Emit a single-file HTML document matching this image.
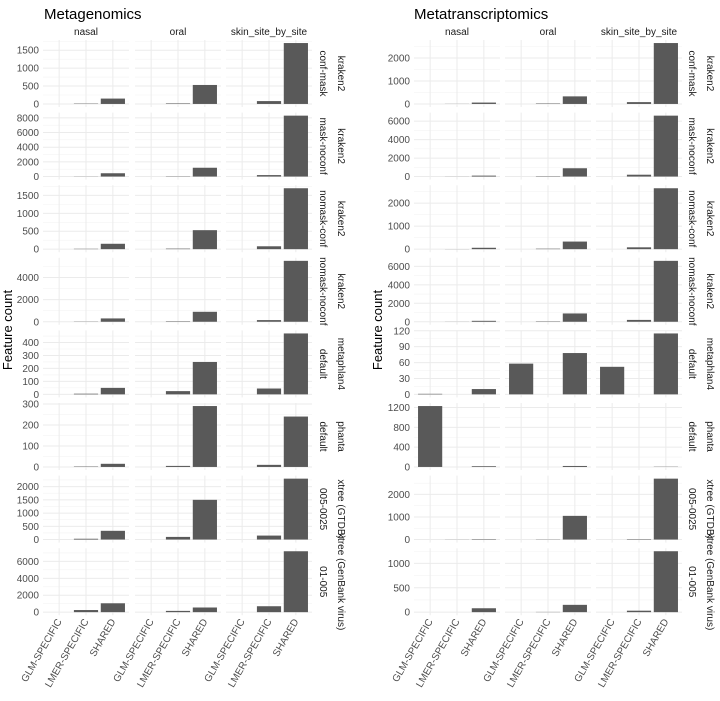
<!DOCTYPE html>
<html><head><meta charset="utf-8"><style>
body{margin:0;background:#fff;width:720px;height:696px;overflow:hidden;font-family:"Liberation Sans",sans-serif}
</style></head><body>
<svg id="c" width="720" height="696" xmlns="http://www.w3.org/2000/svg"></svg>
<script>
const sites = ["nasal","oral","skin_site_by_site"];
const categories = ["GLM-SPECIFIC","LMER-SPECIFIC","SHARED"];
const rowLabels1 = ["kraken2","kraken2","kraken2","kraken2","metaphlan4","phanta","xtree (GTDB)","xtree (GenBank virus)"];
const rowLabels2 = ["conf-mask","mask-noconf","nomask-conf","nomask-noconf","default","default","005-0025","01-005"];
// Metagenomics values [row][site][category]
const mgValues = [
 [[0,10,150],[0,15,530],[0,80,1700]],
 [[0,20,450],[0,40,1200],[0,200,8300]],
 [[0,10,150],[0,15,530],[0,80,1700]],
 [[0,20,300],[0,40,900],[0,150,5500]],
 [[0,5,50],[0,25,250],[0,45,470]],
 [[0,2,15],[0,5,290],[0,10,240]],
 [[0,30,330],[0,100,1500],[0,150,2300]],
 [[0,250,1050],[0,150,550],[0,700,7200]]
];
const mgTicks = [[0,500,1000,1500],[0,2000,4000,6000,8000],[0,500,1000,1500],[0,2000,4000],[0,100,200,300,400],[0,100,200,300],[0,500,1000,1500,2000],[0,2000,4000,6000]];
// Metatranscriptomics values
const mtValues = [
 [[0,5,60],[0,20,330],[0,80,2650]],
 [[0,10,100],[0,40,900],[0,200,6600]],
 [[0,5,60],[0,20,330],[0,80,2650]],
 [[0,10,100],[0,40,900],[0,200,6600]],
 [[1,0,10],[58,0,78],[52,0,115]],
 [[1230,0,15],[0,0,20],[0,0,5]],
 [[0,5,20],[0,10,1050],[0,20,2700]],
 [[0,0,80],[0,5,150],[0,30,1250]]
];
const mtTicks = [[0,1000,2000],[0,2000,4000,6000],[0,1000,2000],[0,2000,4000,6000],[0,30,60,90,120],[0,400,800,1200],[0,1000,2000],[0,500,1000]];

const svg=document.getElementById('c');
const NS="http://www.w3.org/2000/svg";
function mk(tag,attrs,parent,text){const e=document.createElementNS(NS,tag);for(const k in attrs)e.setAttribute(k,attrs[k]);if(text!==undefined)e.textContent=text;(parent||svg).appendChild(e);return e;}

function drawBlock(title,titleX,panelX,values,ticks,stripX,ytitleX,prefix){
  const g=mk('g',{});
  
  
  const t=mk('text',{x:titleX,y:19,'font-size':15,fill:'#000'},g,title);
  
  
  const yt=mk('text',{x:ytitleX,y:330,'font-size':13,fill:'#000','text-anchor':'middle',transform:`rotate(-90 ${ytitleX} 330)`},g,'Feature count');
  
  
  const PW=86,PH=67,top0=40,step=72.6;
  sites.forEach((s,j)=>{
    const st=mk('text',{x:panelX[j]+PW/2,y:35,'font-size':10,fill:'#1a1a1a','text-anchor':'middle'},g,s);
    
    
  });
  values.forEach((row,i)=>{
    const top=top0+step*i;
    const tk=ticks[i];
    let max=0;row.forEach(r=>r.forEach(v=>{if(v>max)max=v;}));
    const lo=-0.05*max,hi=1.05*max;
    const y=v=>top+PH-(v-lo)/(hi-lo)*PH;
    const dt=tk.length>1?tk[1]-tk[0]:max;
    tk.forEach(v=>{
      const tl=mk('text',{x:panelX[0]-4,y:y(v)+3.5,'font-size':10,fill:'#4d4d4d','text-anchor':'end'},g,String(v));
      
      
    });
    row.forEach((vals,j)=>{
      const px=panelX[j];
      const x=c=>px+(c+1-0.4)/3.2*PW;
      const bw=0.9/3.2*PW;
      for(let m=tk[0]-dt/2;m<=hi+dt;m+=dt){
        if(y(m)>=top&&y(m)<=top+PH) mk('line',{x1:px,x2:px+PW,y1:y(m),y2:y(m),stroke:'#f3f3f3','stroke-width':0.6},g);
      }
      tk.forEach(v=>mk('line',{x1:px,x2:px+PW,y1:y(v),y2:y(v),stroke:'#ebebeb','stroke-width':1},g));
      categories.forEach((c,k)=>mk('line',{x1:x(k),x2:x(k),y1:top,y2:top+PH,stroke:'#ebebeb','stroke-width':1},g));
      vals.forEach((v,k)=>{
        const b=mk('rect',{x:x(k)-bw/2,y:y(v),width:bw,height:Math.max(0,y(0)-y(v)),fill:'#595959'},g);
        
        
      });
    });
    const cy=top+PH/2;
    const s2=mk('text',{x:stripX,y:cy,'font-size':10,fill:'#1a1a1a','text-anchor':'middle',transform:`rotate(90 ${stripX} ${cy})`},g,rowLabels2[i]);
    
    
    const s1=mk('text',{x:stripX+18,y:cy,'font-size':10,fill:'#1a1a1a','text-anchor':'middle',transform:`rotate(90 ${stripX+18} ${cy})`},g,rowLabels1[i]);
    
    
  });
  const by=top0+step*7+PH+6;
  sites.forEach((s,j)=>{
    categories.forEach((c,k)=>{
      const xx=panelX[j]+(k+1-0.4)/3.2*PW+3;
      const xl=mk('text',{x:xx,y:by,'font-size':10,fill:'#4d4d4d','text-anchor':'end',transform:`rotate(-60 ${xx} ${by})`},g,c);
      
      
    });
  });
}
drawBlock('Metagenomics',44,[43,135,226],mgValues,mgTicks,320,12,'metagenomics');
drawBlock('Metatranscriptomics',414,[414,505,596],mtValues,mtTicks,689,382,'metatranscriptomics');
</script>
</body></html>
